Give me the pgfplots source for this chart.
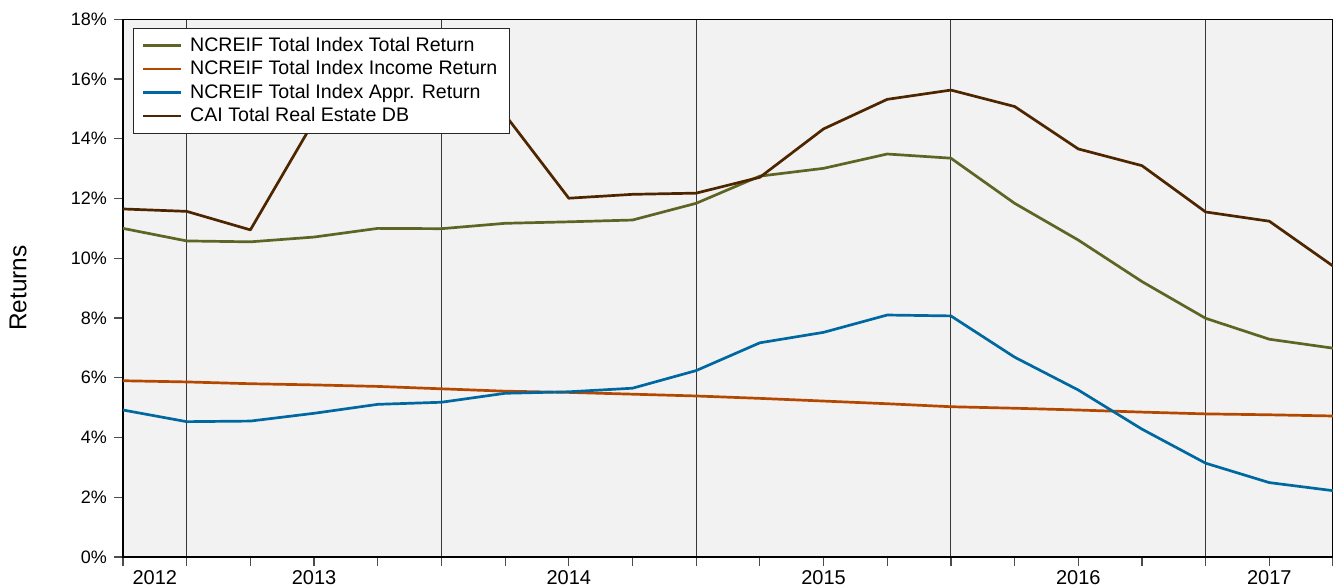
\documentclass[border=0pt]{standalone}
\usepackage{pgfplots}
\pgfplotsset{compat=1.18}
\usepackage{fontspec}
\setmainfont{Liberation Sans}
\definecolor{cTot}{RGB}{94,100,36}
\definecolor{cInc}{RGB}{180,72,0}
\definecolor{cApp}{RGB}{0,104,160}
\definecolor{cCai}{RGB}{77,38,0}
\definecolor{bgc}{RGB}{242,242,242}
\begin{document}
\begin{tikzpicture}
\begin{axis}[name=ax,
  scale only axis, width=605pt, height=268.85pt,
  xmin=0, xmax=19, ymin=0, ymax=18,
  axis background/.style={fill=bgc},
  axis line style={line width=0.65pt, black},
  tick pos=left,
  xtick={1,5,9,13,17}, xticklabels={},
  minor xtick={0,...,19},
  xmajorgrids, major grid style={line width=0.55pt, color=black!78},
  tick align=outside, major tick length=4.5pt, minor tick length=4.5pt,
  every tick/.style={black!70, line width=0.6pt},
  extra x ticks={0.5,3,7,11,15,18},
  extra x tick labels={2012,2013,2014,2015,2016,2017},
  extra x tick style={major tick length=0pt, grid=none, xticklabel style={yshift=-3.2pt, font=\fontsize{10}{11}\selectfont}},
  ytick={0,2,...,18},
  yticklabel={\pgfmathprintnumber{\tick}\%},
  /pgf/number format/assume math mode=true,
  ticklabel style={font=\fontsize{9}{10}\selectfont, text=black},
  ylabel={Returns},
  every axis y label/.style={at={(rel axis cs:0,0.5)}, xshift=-52.5pt, rotate=90, anchor=center, font=\fontsize{12.2}{14}\selectfont},
  legend cell align=left,
  legend style={at={(rel axis cs:0.00826,0.9838)}, anchor=north west, draw=black!85, line width=0.5pt, fill=white,
    font=\fontsize{9.8}{11}\selectfont, row sep=-0.9pt, inner xsep=4pt, inner ysep=2.3pt},
  legend image code/.code={\draw[#1, line width=1.35pt] (0pt,0pt) -- (19pt,0pt); \path (21pt,0pt);},
  every axis plot/.append style={line width=1.35pt, no markers, line join=round},
]
\addplot[cTot] coordinates {(0,11.0) (1,10.58) (2,10.55) (3,10.71) (4,11.0) (5,10.99) (6,11.17) (7,11.22) (8,11.28) (9,11.84) (10,12.75) (11,13.01) (12,13.49) (13,13.35) (14,11.84) (15,10.61) (16,9.22) (17,7.99) (18,7.29) (19,6.99)};
\addlegendentry{NCREIF Total Index Total Return}
\addplot[cInc] coordinates {(0,5.90) (1,5.86) (2,5.80) (3,5.76) (4,5.71) (5,5.63) (6,5.55) (7,5.51) (8,5.45) (9,5.39) (10,5.31) (11,5.22) (12,5.13) (13,5.03) (14,4.98) (15,4.92) (16,4.85) (17,4.79) (18,4.76) (19,4.72)};
\addlegendentry{NCREIF Total Index Income Return}
\addplot[cApp] coordinates {(0,4.92) (1,4.53) (2,4.55) (3,4.81) (4,5.11) (5,5.18) (6,5.48) (7,5.53) (8,5.65) (9,6.24) (10,7.17) (11,7.52) (12,8.10) (13,8.07) (14,6.69) (15,5.59) (16,4.28) (17,3.14) (18,2.49) (19,2.22)};
\addlegendentry{NCREIF Total Index Appr. Return}
\addplot[cCai] coordinates {(0,11.65) (1,11.57) (2,10.95) (3,14.6) (4,15.4) (5,15.9) (6,14.8) (7,12.01) (8,12.14) (9,12.18) (10,12.71) (11,14.33) (12,15.32) (13,15.63) (14,15.08) (15,13.66) (16,13.10) (17,11.55) (18,11.24) (19,9.74)};
\addlegendentry{CAI Total Real Estate DB}
\end{axis}
\pgfresetboundingbox
\path ([xshift=-61.5pt,yshift=-14.5pt]ax.south west) rectangle ([yshift=9.65pt]ax.north east);
\end{tikzpicture}
\end{document}
